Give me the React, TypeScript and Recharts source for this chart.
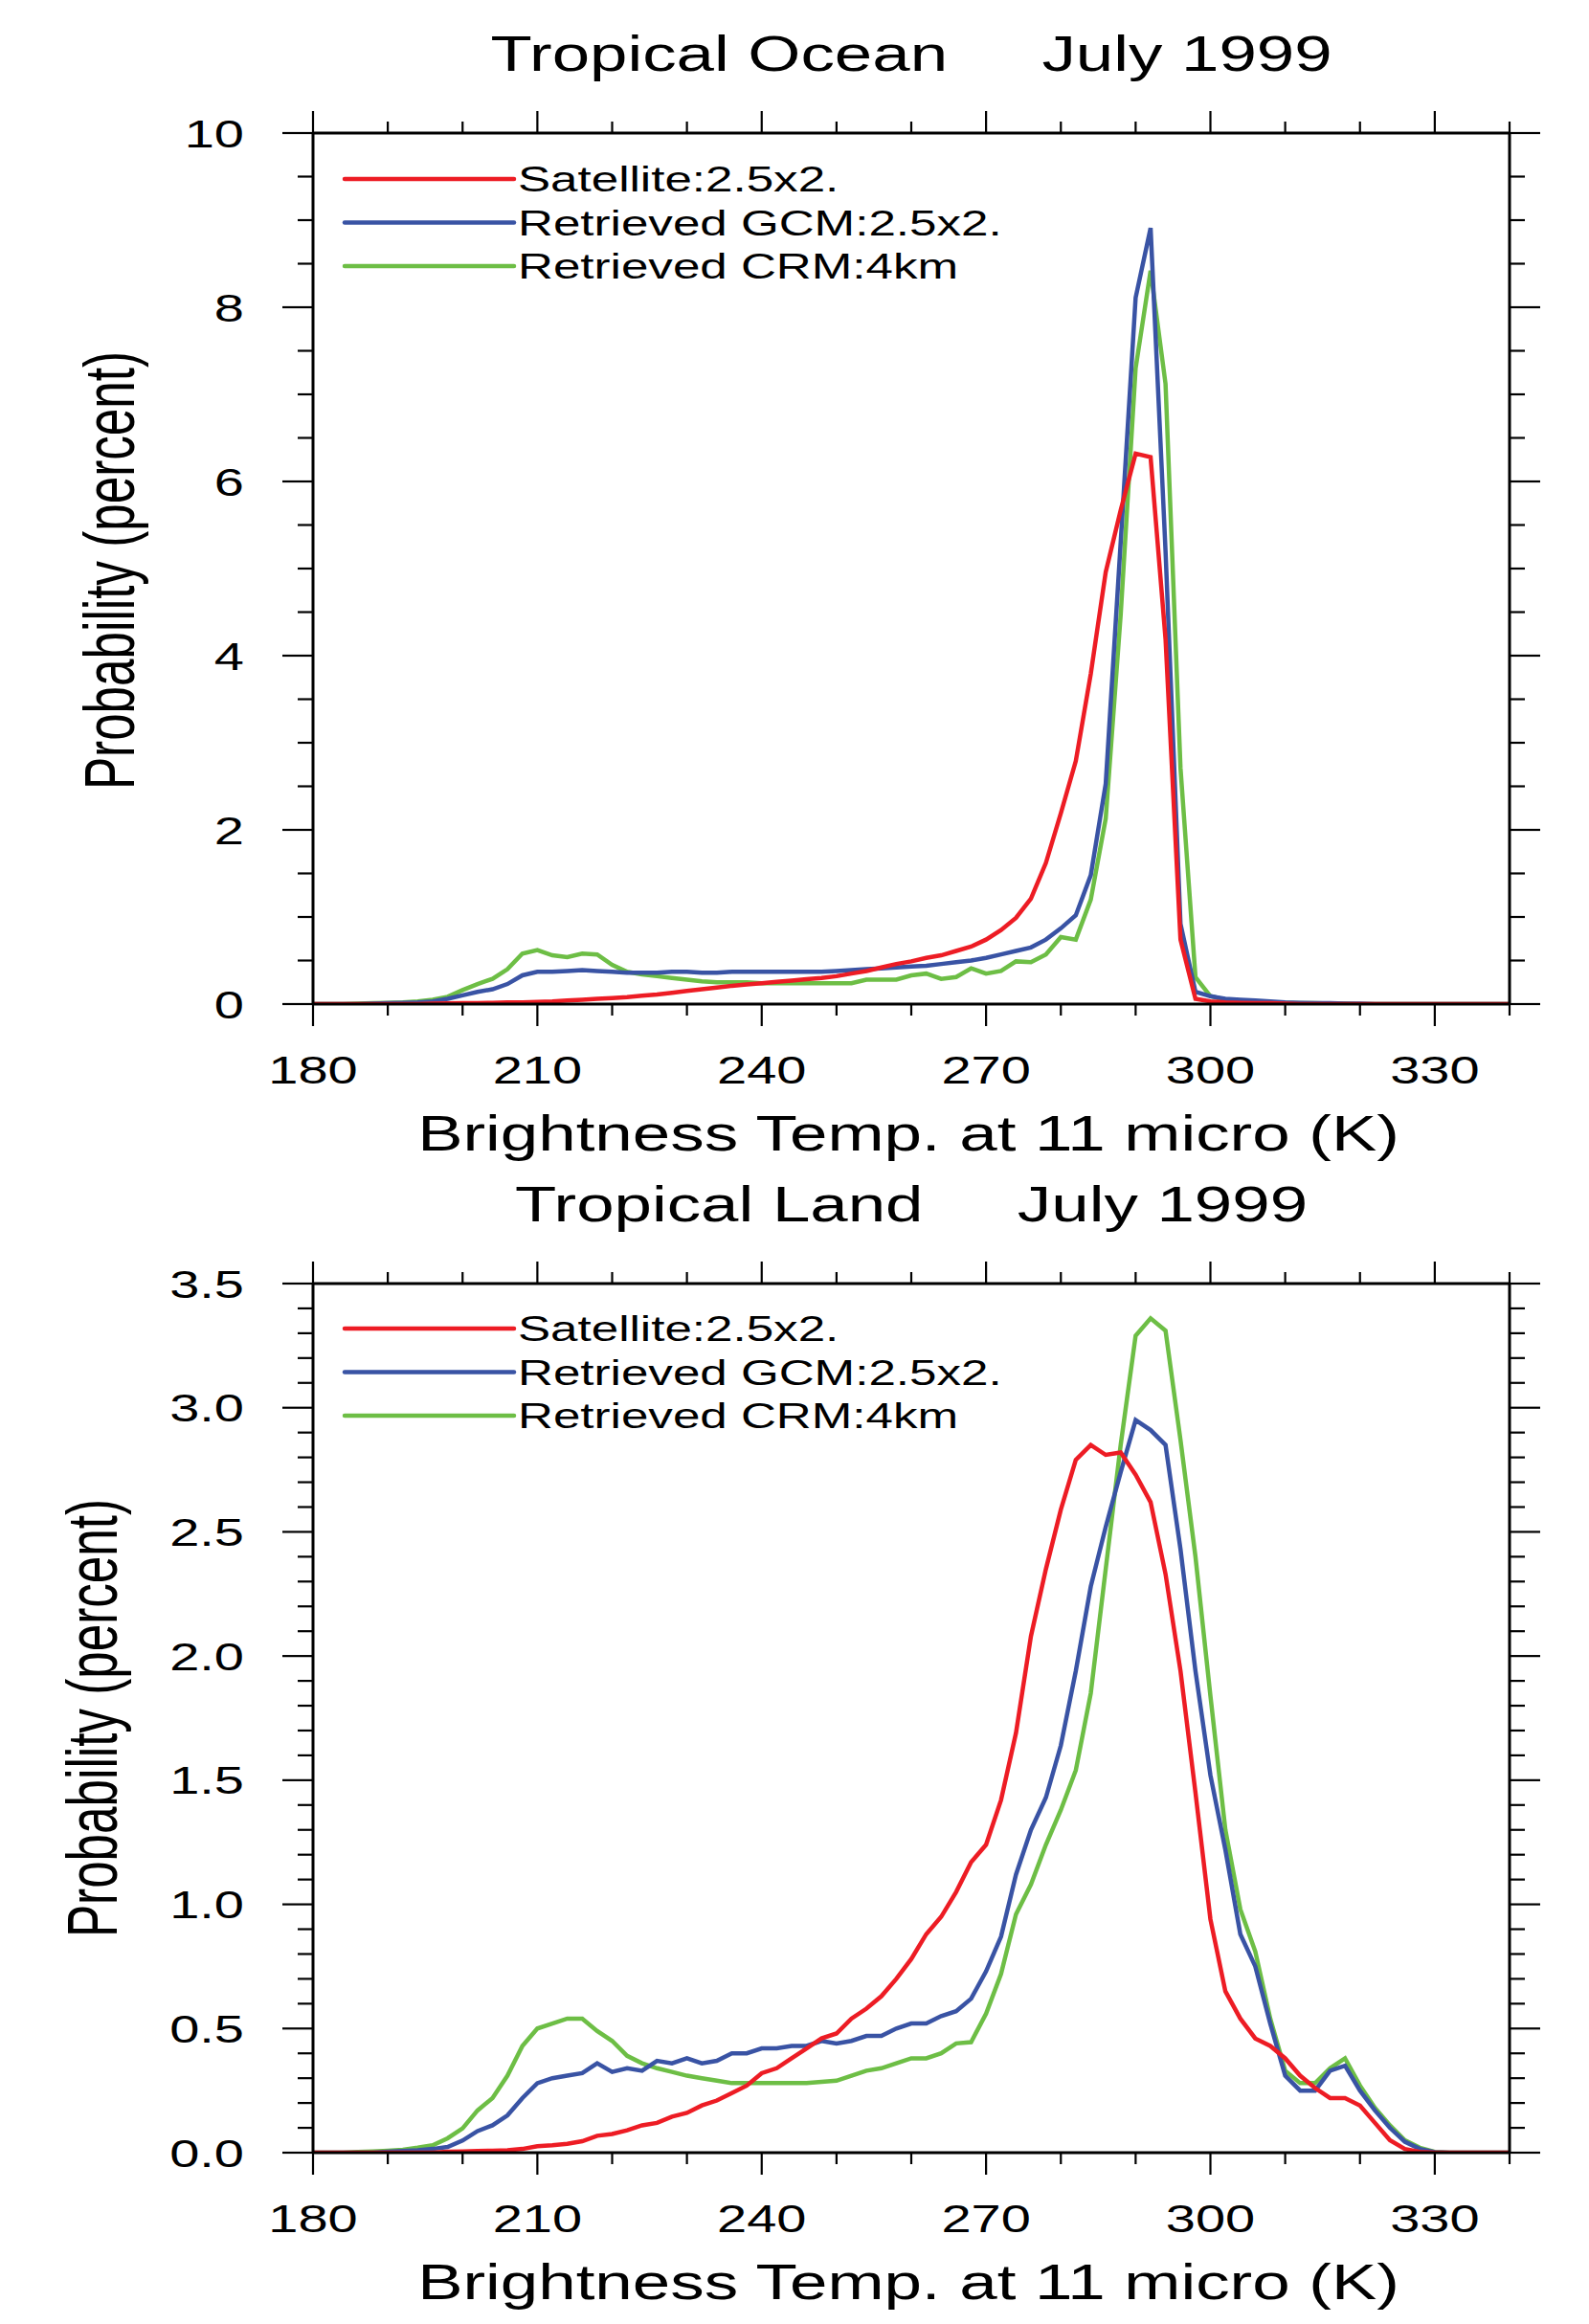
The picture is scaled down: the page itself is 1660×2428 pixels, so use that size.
import React from 'react';
import { LineChart, Line, XAxis, YAxis } from 'recharts';

// ---------- data ----------
const temps = [
  180, 182, 184, 186, 188, 190, 192, 194, 196, 198,
  200, 202, 204, 206, 208, 210, 212, 214, 216, 218,
  220, 222, 224, 226, 228, 230, 232, 234, 236, 238,
  240, 242, 244, 246, 248, 250, 252, 254, 256, 258,
  260, 262, 264, 266, 268, 270, 272, 274, 276, 278,
  280, 282, 284, 286, 288, 290, 292, 294, 296, 298,
  300, 302, 304, 306, 308, 310, 312, 314, 316, 318,
  320, 322, 324, 326, 328, 330, 332, 334, 336, 338,
  340,
];

const oceanSatellite = [
  0, 0, 0, 0, 0, 0, 0, 0, 0.005, 0.008,
  0.01, 0.012, 0.015, 0.018, 0.02, 0.025, 0.03, 0.04, 0.05, 0.06,
  0.07, 0.08, 0.095, 0.11, 0.13, 0.15, 0.17, 0.19, 0.21, 0.225,
  0.24, 0.255, 0.27, 0.285, 0.3, 0.32, 0.35, 0.38, 0.42, 0.46,
  0.49, 0.53, 0.56, 0.61, 0.66, 0.74, 0.85, 0.99, 1.21, 1.62,
  2.19, 2.79, 3.79, 4.96, 5.67, 6.32, 6.28, 4.19, 0.74, 0.06,
  0.03, 0.02, 0.015, 0.01, 0.01, 0.005, 0, 0, 0, 0,
  0, 0, 0, 0, 0, 0, 0, 0, 0, 0,
  0,
];

const oceanGCM = [
  0, 0, 0, 0, 0.005, 0.01, 0.015, 0.02, 0.03, 0.06,
  0.1, 0.14, 0.17, 0.23, 0.33, 0.37, 0.37, 0.38, 0.39, 0.38,
  0.37, 0.36, 0.36, 0.36, 0.37, 0.37, 0.36, 0.36, 0.37, 0.37,
  0.37, 0.37, 0.37, 0.37, 0.37, 0.38, 0.39, 0.4, 0.41, 0.42,
  0.43, 0.44, 0.46, 0.48, 0.5, 0.53, 0.57, 0.61, 0.65, 0.74,
  0.87, 1.02, 1.48, 2.53, 5.3, 8.11, 8.91, 5.2, 0.92, 0.14,
  0.09, 0.06, 0.05, 0.04, 0.03, 0.02, 0.015, 0.01, 0.01, 0.005,
  0.005, 0, 0, 0, 0, 0, 0, 0, 0, 0,
  0,
];

const oceanCRM = [
  0, 0, 0, 0.005, 0.01, 0.015, 0.02, 0.03, 0.05, 0.084,
  0.16, 0.23, 0.29, 0.4, 0.58, 0.62, 0.56, 0.54, 0.58, 0.57,
  0.45, 0.37, 0.34, 0.32, 0.3, 0.28, 0.26, 0.25, 0.25, 0.25,
  0.24, 0.24, 0.24, 0.24, 0.24, 0.24, 0.24, 0.28, 0.28, 0.28,
  0.33, 0.35, 0.29, 0.31, 0.41, 0.35, 0.38, 0.49, 0.48, 0.57,
  0.77, 0.74, 1.2, 2.13, 4.47, 7.3, 8.42, 7.12, 2.71, 0.31,
  0.09, 0.05, 0.04, 0.03, 0.02, 0.015, 0.01, 0.01, 0.005, 0.005,
  0, 0, 0, 0, 0, 0, 0, 0, 0, 0,
  0,
];

const landSatellite = [
  0, 0, 0, 0, 0, 0, 0, 0, 0, 0.004,
  0.005, 0.007, 0.008, 0.01, 0.015, 0.026, 0.03, 0.036, 0.046, 0.068,
  0.075, 0.09, 0.11, 0.12, 0.145, 0.16, 0.19, 0.21, 0.24, 0.27,
  0.32, 0.34, 0.38, 0.42, 0.46, 0.48, 0.54, 0.58, 0.63, 0.7,
  0.78, 0.88, 0.95, 1.05, 1.17, 1.24, 1.42, 1.69, 2.08, 2.35,
  2.59, 2.79, 2.85, 2.81, 2.82, 2.73, 2.62, 2.33, 1.94, 1.45,
  0.94, 0.65, 0.54, 0.46, 0.43, 0.38, 0.31, 0.26, 0.22, 0.22,
  0.19, 0.12, 0.05, 0.015, 0.003, 0, 0, 0, 0, 0,
  0,
];

const landGCM = [
  0, 0, 0, 0, 0, 0.004, 0.007, 0.01, 0.015, 0.023,
  0.049, 0.087, 0.11, 0.15, 0.22, 0.28, 0.3, 0.31, 0.32, 0.36,
  0.325, 0.34, 0.33, 0.37, 0.36, 0.38, 0.36, 0.37, 0.4, 0.4,
  0.42, 0.42, 0.43, 0.43, 0.45, 0.44, 0.45, 0.47, 0.47, 0.5,
  0.52, 0.52, 0.55, 0.57, 0.62, 0.73, 0.87, 1.12, 1.3, 1.43,
  1.64, 1.94, 2.28, 2.52, 2.74, 2.95, 2.91, 2.85, 2.43, 1.94,
  1.52, 1.22, 0.88, 0.75, 0.52, 0.31, 0.25, 0.25, 0.33, 0.35,
  0.25, 0.17, 0.1, 0.044, 0.015, 0.002, 0, 0, 0, 0,
  0,
];

const landCRM = [
  0, 0, 0, 0.003, 0.005, 0.008, 0.012, 0.02, 0.03, 0.058,
  0.098, 0.17, 0.22, 0.31, 0.43, 0.5, 0.52, 0.54, 0.54, 0.49,
  0.45, 0.39, 0.36, 0.34, 0.325, 0.31, 0.3, 0.29, 0.28, 0.28,
  0.28, 0.28, 0.28, 0.28, 0.285, 0.29, 0.31, 0.33, 0.34, 0.36,
  0.38, 0.38, 0.4, 0.44, 0.445, 0.56, 0.72, 0.96, 1.08, 1.24,
  1.38, 1.54, 1.85, 2.35, 2.85, 3.29, 3.36, 3.31, 2.87, 2.4,
  1.84, 1.3, 0.98, 0.81, 0.54, 0.33, 0.28, 0.28, 0.34, 0.38,
  0.27, 0.18, 0.11, 0.05, 0.02, 0.003, 0, 0, 0, 0,
  0,
];

// ---------- ticks / labels ----------
const xTicks = [180, 190, 200, 210, 220, 230, 240, 250, 260, 270, 280, 290, 300, 310, 320, 330, 340];
const xMajorTicks = [180, 210, 240, 270, 300, 330];

const oceanYTicks = [0, 0.5, 1, 1.5, 2, 2.5, 3, 3.5, 4, 4.5, 5, 5.5, 6, 6.5, 7, 7.5, 8, 8.5, 9, 9.5, 10];
const oceanYMajor = [0, 2, 4, 6, 8, 10];

const landYTicks = [
  0, 0.1, 0.2, 0.3, 0.4, 0.5, 0.6, 0.7, 0.8, 0.9,
  1.0, 1.1, 1.2, 1.3, 1.4, 1.5, 1.6, 1.7, 1.8, 1.9,
  2.0, 2.1, 2.2, 2.3, 2.4, 2.5, 2.6, 2.7, 2.8, 2.9,
  3.0, 3.1, 3.2, 3.3, 3.4, 3.5,
];
const landYMajor = [0, 0.5, 1, 1.5, 2, 2.5, 3, 3.5];

const seriesKeys = ['sat', 'gcm', 'crm'];
const seriesNames = ['Satellite:2.5x2.', 'Retrieved GCM:2.5x2.', 'Retrieved CRM:4km'];
const seriesColors = ['#ED1C24', '#3953A4', '#6DBE45'];

const oceanTitle = 'Tropical Ocean     July 1999';
const landTitle = 'Tropical Land     July 1999';
const xTitle = 'Brightness Temp. at 11 micro (K)';
const yTitle = 'Probability (percent)';

const oceanData = temps.map((t, i) => ({ t, sat: oceanSatellite[i], gcm: oceanGCM[i], crm: oceanCRM[i] }));
const landData = temps.map((t, i) => ({ t, sat: landSatellite[i], gcm: landGCM[i], crm: landCRM[i] }));

// ---------- styling helpers ----------
const FONT = '"Liberation Sans", Arial, Helvetica, sans-serif';

type STextProps = {
  x: number; y: number; sx: number; size: number;
  anchor?: 'start' | 'middle' | 'end'; rotate?: boolean; children: React.ReactNode;
};

const SText = ({ x, y, sx, size, anchor = 'middle', rotate = false, children }: STextProps) => (
  <text
    transform={`translate(${x},${y}) scale(${sx},1)${rotate ? ' rotate(-90)' : ''}`}
    x={0}
    y={0}
    fontSize={size}
    fontFamily={FONT}
    textAnchor={anchor}
    fill="#000"
    style={{ whiteSpace: 'pre' }}
  >
    {children}
  </text>
);

const isMajor = (v: number, majors: number[]) => majors.some((m) => Math.abs(m - v) < 1e-6);

const TICK_W = 2.2;

const makeXTick = (dir: 1 | -1, showLabel: boolean) => (props: any) => {
  const { x, y, payload } = props;
  const v = payload.value;
  const major = isMajor(v, xMajorTicks);
  const len = major ? 23 : 12;
  return (
    <g>
      <line x1={x} x2={x} y1={y} y2={y + dir * len} stroke="#000" strokeWidth={TICK_W} />
      {showLabel && major ? (
        <SText x={x} y={y + 83} sx={1.4} size={40}>{String(v)}</SText>
      ) : null}
    </g>
  );
};

const makeYTick = (dir: 1 | -1, majors: number[], fmt: ((v: number) => string) | null) => (props: any) => {
  const { x, y, payload } = props;
  const v = payload.value;
  const major = isMajor(v, majors);
  const len = major ? 32 : 16;
  return (
    <g>
      <line x1={x} x2={x + dir * len} y1={y} y2={y} stroke="#000" strokeWidth={TICK_W} />
      {fmt && major ? (
        <SText x={x - 72} y={y + 14.5} sx={1.4} size={40} anchor="end">{fmt(v)}</SText>
      ) : null}
    </g>
  );
};

const AXIS_LINE = { stroke: '#000', strokeWidth: 3 };

type PanelProps = {
  top: number;
  height: number;
  margin: { top: number; right: number; bottom: number; left: number };
  data: any[];
  yTicks: number[];
  yMajors: number[];
  yDomain: [number, number];
  fmt: (v: number) => string;
};

const Panel = ({ top, height, margin, data, yTicks, yMajors, yDomain, fmt }: PanelProps) => {
  const bottomTick = makeXTick(1, true);
  const topTick = makeXTick(-1, false);
  const leftTick = makeYTick(-1, yMajors, fmt);
  const rightTick = makeYTick(1, yMajors, null);
  const order = [2, 1, 0];
  // axes are 1px thick bands, so margins are reduced by 1 on each side
  const m = { top: margin.top - 1, right: margin.right - 1, bottom: margin.bottom - 1, left: margin.left - 1 };
  return (
    <div style={{ position: 'absolute', left: 0, top, width: 1660, height }}>
      <LineChart width={1660} height={height} data={data} margin={m}>
        <XAxis
          xAxisId="b" dataKey="t" type="number" domain={[180, 340]} ticks={xTicks} interval={0}
          orientation="bottom" height={1} tickSize={0} tickMargin={0} axisLine={AXIS_LINE}
          tickLine={false} tick={bottomTick} allowDataOverflow
        />
        <XAxis
          xAxisId="t" dataKey="t" type="number" domain={[180, 340]} ticks={xTicks} interval={0}
          orientation="top" height={1} tickSize={0} tickMargin={0} axisLine={AXIS_LINE}
          tickLine={false} tick={topTick} allowDataOverflow
        />
        <YAxis
          yAxisId="l" type="number" domain={yDomain} ticks={yTicks} interval={0}
          orientation="left" width={1} tickSize={0} tickMargin={0} axisLine={AXIS_LINE}
          tickLine={false} tick={leftTick} allowDataOverflow
        />
        <YAxis
          yAxisId="r" type="number" domain={yDomain} ticks={yTicks} interval={0}
          orientation="right" width={1} tickSize={0} tickMargin={0} axisLine={AXIS_LINE}
          tickLine={false} tick={rightTick} allowDataOverflow
        />
        {order.map((i) => (
          <Line
            key={seriesKeys[i]}
            xAxisId="b"
            yAxisId="l"
            type="linear"
            dataKey={seriesKeys[i]}
            name={seriesNames[i]}
            stroke={seriesColors[i]}
            strokeWidth={4.5}
            dot={false}
            activeDot={false}
            isAnimationActive={false}
          />
        ))}
      </LineChart>
    </div>
  );
};

const LegendBlock = ({ y0 }: { y0: number }) => (
  <g>
    {seriesNames.map((name, i) => {
      const y = y0 + i * 45.5;
      return (
        <g key={name}>
          <line x1={360} x2={537} y1={y} y2={y} stroke={seriesColors[i]} strokeWidth={4.5} strokeLinecap="round" />
          <SText x={541} y={y + 13} sx={1.42} size={36} anchor="start">{name}</SText>
        </g>
      );
    })}
  </g>
);

export default function App() {
  return (
    <div style={{ position: 'absolute', left: 0, top: 0, width: 1660, height: 2428, background: '#fff' }}>
      <Panel
        top={0}
        height={1214}
        margin={{ top: 139, right: 83, bottom: 165, left: 327 }}
        data={oceanData}
        yTicks={oceanYTicks}
        yMajors={oceanYMajor}
        yDomain={[0, 10]}
        fmt={(v) => String(v)}
      />
      <Panel
        top={1214}
        height={1214}
        margin={{ top: 127, right: 83, bottom: 179, left: 327 }}
        data={landData}
        yTicks={landYTicks}
        yMajors={landYMajor}
        yDomain={[0, 3.5]}
        fmt={(v) => v.toFixed(1)}
      />
      <svg
        width={1660}
        height={2428}
        style={{ position: 'absolute', left: 0, top: 0, pointerEvents: 'none' }}
      >
        <SText x={952} y={74} sx={1.37} size={51.7}>{oceanTitle}</SText>
        <SText x={949} y={1202} sx={1.39} size={51}>{xTitle}</SText>
        <SText x={140} y={596} sx={1.44} size={51.2} rotate>{yTitle}</SText>
        <LegendBlock y0={187} />

        <SText x={952} y={1276} sx={1.37} size={51.7}>{landTitle}</SText>
        <SText x={949} y={2402} sx={1.39} size={51}>{xTitle}</SText>
        <SText x={122} y={1795} sx={1.44} size={51.2} rotate>{yTitle}</SText>
        <LegendBlock y0={1388} />
      </svg>
    </div>
  );
}
